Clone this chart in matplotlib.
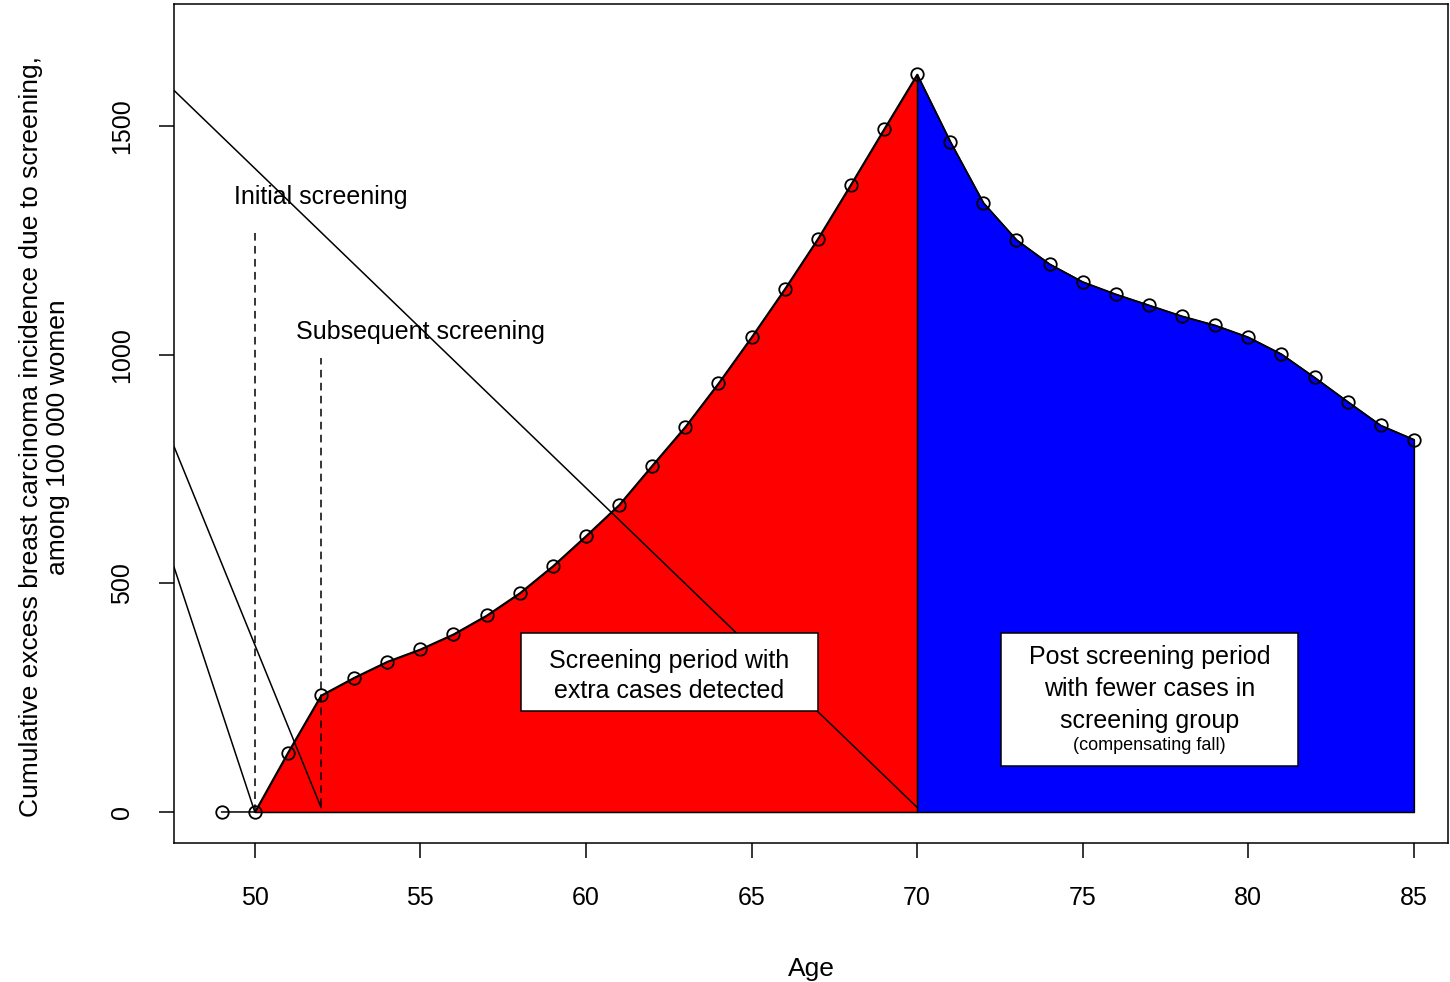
import matplotlib.pyplot as plt
from matplotlib.patches import Rectangle

plt.rcParams['font.family'] = ['Liberation Sans', 'DejaVu Sans']

age = list(range(49, 86))
excess = [0, 0, 130, 255, 294, 329, 356, 389, 430, 479, 538, 604, 672, 758, 843,
          938, 1039, 1144, 1254, 1373, 1494, 1614, 1467, 1333, 1252, 1199, 1160,
          1133, 1109, 1085, 1065, 1039, 1002, 951, 898, 846, 815]

x_ticks = [50, 55, 60, 65, 70, 75, 80, 85]
y_ticks = [0, 500, 1000, 1500]

fig = plt.figure(figsize=(14.5, 9.82), dpi=100)
ax = fig.add_axes([0.12, 0.1415, 0.8786, 0.8544])
xmin, xmax = 47.56, 86.03
ax.set_xlim(xmin, xmax)
ax.set_ylim(-68, 1768)

lw = 1.1

# screening period (red) and post screening period (blue)
i50 = age.index(50)
i70 = age.index(70)
ax.fill_between(age[i50:i70 + 1], 0, excess[i50:i70 + 1], facecolor='red',
                edgecolor='black', linewidth=lw, zorder=1)
ax.fill_between(age[i70:], 0, excess[i70:], facecolor='blue',
                edgecolor='black', linewidth=lw, zorder=1)

# diagonal lines
ax.plot([xmin, 70], [1579, 10], color='black', lw=lw, zorder=3)
ax.plot([xmin, 52], [800, 10], color='black', lw=lw, zorder=3)
ax.plot([xmin, 50], [536, 0], color='black', lw=lw, zorder=3)

# dashed markers for screenings
ax.plot([50, 50], [0, 1272], color='black', lw=lw, ls=(0, (5, 3.5)), zorder=3)
ax.plot([52, 52], [13, 993], color='black', lw=lw, ls=(0, (5, 3.5)), zorder=3)
ax.text(52, 1346, 'Initial screening', ha='center', va='center', fontsize=18, zorder=2)
ax.text(55, 1050, 'Subsequent screening', ha='center', va='center', fontsize=18, zorder=2)

ax.plot(age, excess, color='black', lw=lw, marker='o', markersize=9,
        markerfacecolor='none', markeredgecolor='black', markeredgewidth=1.3, zorder=5)

# text boxes
ax.add_patch(Rectangle((58.03, 220), 8.99, 171, facecolor='white', edgecolor='black',
                       linewidth=lw, zorder=6))
ax.text(62.52, 330, 'Screening period with', ha='center', va='center', fontsize=18, zorder=7)
ax.text(62.52, 264, 'extra cases detected', ha='center', va='center', fontsize=18, zorder=7)

ax.add_patch(Rectangle((72.54, 101), 8.96, 290, facecolor='white', edgecolor='black',
                       linewidth=lw, zorder=6))
ax.text(77.02, 340, 'Post screening period', ha='center', va='center', fontsize=18, zorder=7)
ax.text(77.02, 270, 'with fewer cases in', ha='center', va='center', fontsize=18, zorder=7)
ax.text(77.02, 200, 'screening group', ha='center', va='center', fontsize=18, zorder=7)
ax.text(77.02, 145, '(compensating fall)', ha='center', va='center', fontsize=13, zorder=7)

ax.set_xticks(x_ticks)
ax.set_yticks(y_ticks)
ax.set_yticklabels([str(v) for v in y_ticks], rotation=90, va='center')
ax.tick_params(axis='both', direction='out', length=11, width=lw, labelsize=18)
ax.tick_params(axis='x', pad=20)
ax.tick_params(axis='y', pad=18)
for s in ax.spines.values():
    s.set_linewidth(lw)
ax.set_xlabel('Age', fontsize=19, labelpad=34)
ax.set_ylabel('Cumulative excess breast carcinoma incidence due to screening,\namong 100 000 women',
              fontsize=19, linespacing=1.15)
ax.yaxis.set_label_coords(-0.082, 0.484)

fig.savefig('out.png', dpi=100)
